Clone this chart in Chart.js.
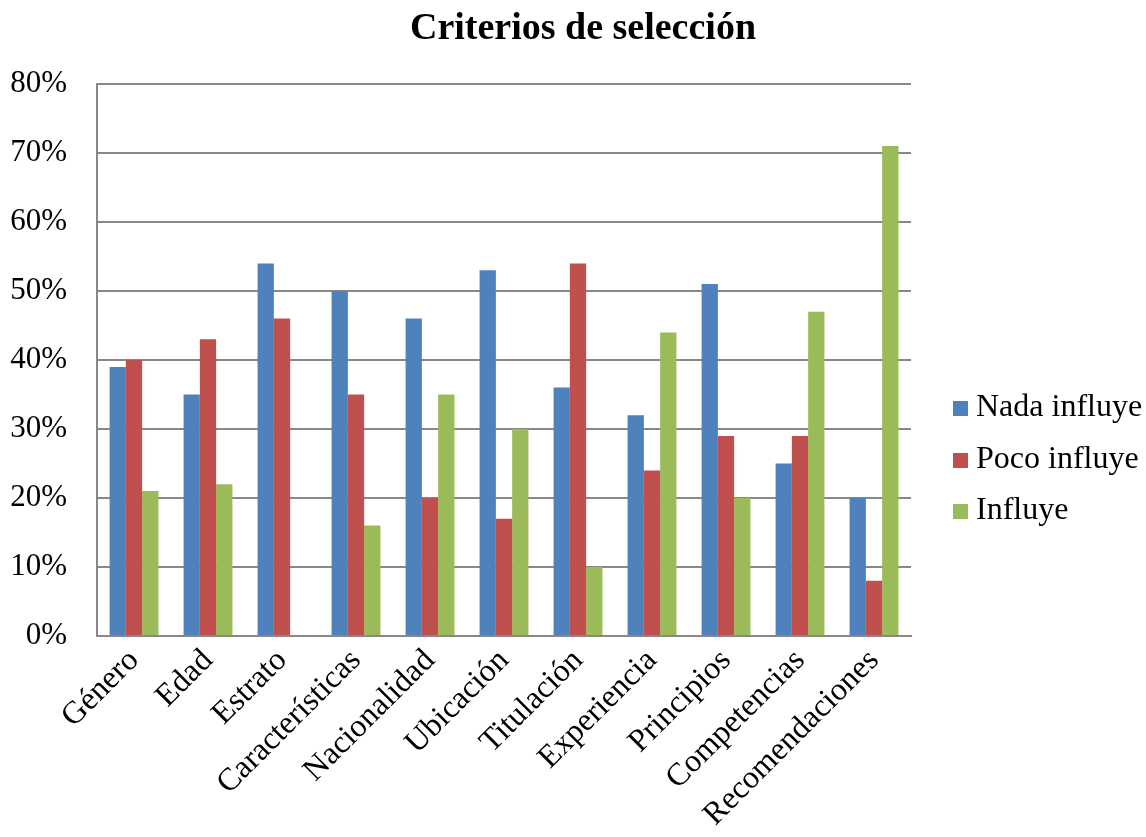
<!DOCTYPE html>
<html>
<head>
<meta charset="utf-8">
<title>Criterios de selección</title>
<script src="https://cdn.jsdelivr.net/npm/chart.js@4"></script>
<style>
  html, body { margin: 0; padding: 0; background: #fff; }
  #wrap { position: relative; width: 1146px; height: 837px; font-family: "Liberation Serif", "Times New Roman", serif; }
  #title {
    position: absolute; left: 0; width: 1166px; top: 2px;
    text-align: center; font-size: 38px; font-weight: bold; color: #000;
    line-height: 48px;
  }
  #legend {
    position: absolute; left: 953px; top: 383px;
    font-size: 32px; color: #000;
  }
  #legend div { height: 51.5px; line-height: 44px; white-space: nowrap; }
  #legend span {
    display: inline-block; width: 15px; height: 15px; margin-right: 8px;
    vertical-align: 0px;
  }
</style>
</head>
<body>
<div id="wrap">
  <canvas id="myChart" width="1146" height="837"></canvas>
  <div id="title">Criterios de selección</div>
  <div id="legend"></div>
</div>
<script>
const categories = ["Género", "Edad", "Estrato", "Características", "Nacionalidad", "Ubicación",
  "Titulación", "Experiencia", "Principios", "Competencias", "Recomendaciones"];
const nadaInfluye = [39, 35, 54, 50, 46, 53, 36, 32, 51, 25, 20];
const pocoInfluye = [40, 43, 46, 35, 20, 17, 54, 24, 29, 29, 8];
const influye = [21, 22, 0, 16, 35, 30, 10, 44, 20, 47, 71];
const seriesNames = ["Nada influye", "Poco influye", "Influye"];
const seriesColors = ["#4F81BD", "#C0504D", "#9BBB59"];
const yTicks = [0, 10, 20, 30, 40, 50, 60, 70, 80];

const serif = "'Liberation Serif', 'Times New Roman', serif";
const myChartUi = document.querySelector("#myChart");
const legendUi = document.querySelector("#legend");

const chart = new Chart(myChartUi, {
  type: "bar",
  data: {
    labels: categories,
    datasets: [nadaInfluye, pocoInfluye, influye].map((values, i) => ({
      label: seriesNames[i],
      data: values,
      backgroundColor: seriesColors[i],
      borderWidth: 0,
      categoryPercentage: 0.66,
      barPercentage: 1
    }))
  },
  options: {
    responsive: false,
    animation: false,
    layout: { padding: { top: 84, right: 235, bottom: 0, left: 0 } },
    plugins: {
      legend: { display: false },
      tooltip: { enabled: false }
    },
    scales: {
      x: {
        grid: { display: false, drawTicks: false },
        border: { display: true, color: "#888", width: 2 },
        ticks: {
          color: "#000",
          font: { family: serif, size: 32 },
          minRotation: 45,
          maxRotation: 45,
          padding: 6,
          autoSkip: false
        },
        afterFit(scale) { scale.height = 201; }
      },
      y: {
        min: 0,
        max: 80,
        afterBuildTicks(scale) { scale.ticks = yTicks.map(v => ({ value: v })); },
        grid: { color: "#888", lineWidth: 2, drawTicks: false },
        border: { display: true, color: "#888", width: 2 },
        ticks: {
          color: "#000",
          font: { family: serif, size: 31 },
          padding: 30,
          callback: v => v + "%"
        },
        afterFit(scale) { scale.width = 97; }
      }
    }
  }
});

// legend rows beside the plot
seriesNames.forEach((name, i) => {
  const row = document.createElement("div");
  row.innerHTML = `<span style="background:${seriesColors[i]}"></span>${name}`;
  legendUi.appendChild(row);
});
</script>
</body>
</html>
